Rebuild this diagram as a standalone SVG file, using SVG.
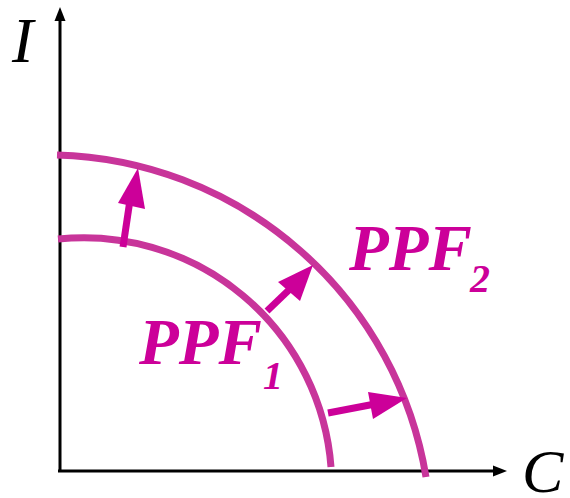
<svg xmlns="http://www.w3.org/2000/svg" width="570" height="498" viewBox="0 0 570 498">
<style>
.axis{stroke:#000;stroke-width:3;fill:none}
.ppf{stroke:#C8359A;stroke-width:7;fill:none}
.shaft{stroke:#CC0099;stroke-width:7;fill:none}
.head{fill:#CC0099}
.ax{font-family:"Liberation Serif",serif;font-style:italic;font-size:64px;fill:#000}
.lbl{font-family:"Liberation Serif",serif;font-style:italic;font-weight:bold;font-size:65px;fill:#CC0099}
.sub{font-family:"Liberation Serif",serif;font-style:italic;font-weight:bold;font-size:40px;fill:#CC0099}
</style>
<rect width="570" height="498" fill="#fff"/>
<g id="axes">
<line class="axis" x1="60" y1="472" x2="60" y2="18"/>
<polygon points="60,7 54.5,21 65.5,21" fill="#000"/>
<line class="axis" x1="58" y1="471" x2="496" y2="471"/>
<polygon points="507,471 493,465.5 493,476.5" fill="#000"/>
<text class="ax" x="12" y="62">I</text>
<text class="ax" x="522" y="492" style="font-size:62px">C</text>
</g>
<g id="ppf1">
<path class="ppf" d="M58,239 A248,248 0 0 1 331,467"/>
<text class="lbl" x="139" y="364">PPF</text>
<text class="sub" x="263" y="389">1</text>
</g>
<g id="ppf2">
<path class="ppf" d="M57,155 A385,385 0 0 1 426,477"/>
<text class="lbl" x="349" y="270">PPF</text>
<text class="sub" x="470" y="292">2</text>
</g>
<g id="connectors">
<line class="shaft" x1="123" y1="247" x2="130" y2="200"/>
<polygon class="head" points="138,168 118,203 145,209"/>
<line class="shaft" x1="267" y1="311" x2="292" y2="287"/>
<polygon class="head" points="313,265 278,282 300,301"/>
<line class="shaft" x1="328" y1="413" x2="375" y2="404"/>
<polygon class="head" points="407,398 368,392 373,419"/>
</g>
</svg>
